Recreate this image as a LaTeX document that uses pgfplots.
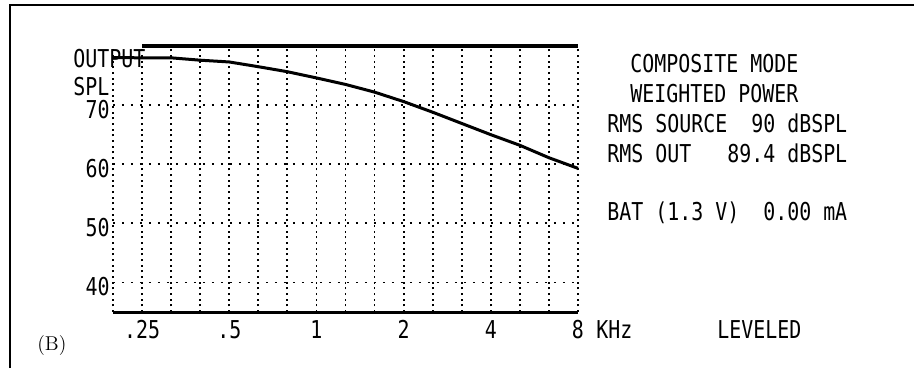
\documentclass[border=0pt]{standalone}
\usepackage{pgfplots}
\pgfplotsset{compat=1.18}
\usepackage{fontspec}
\newfontfamily\mono{DejaVu Sans Mono}[FakeStretch=0.81]
\newcommand\mf{\mono\fontsize{14.76pt}{18pt}\selectfont}

\begin{document}
\begin{tikzpicture}[x=0.6pt,y=0.6pt]
\path[use as bounding box] (0,0) rectangle (914,368);
\draw[line width=1.2pt] (10,0) -- (10,363) -- (914,363);
\begin{axis}[
  at={(67.8pt,33.6pt)}, anchor=south west,
  width=279pt, height=159.6pt, scale only axis,
  xmode=log, xmin=0.19843, xmax=8, ymin=35, ymax=80,
  clip=false,
  axis line style={draw=none},
  major tick length=0pt, minor tick length=0pt,
  xtick={0.25,0.5,1,2,4,8}, xticklabels={.25,.5,1,2,4,8},
  minor xtick={0.19843,0.315,0.397,0.63,0.794,1.26,1.587,2.52,3.175,5.04,6.35},
  ytick={40,50,60,70}, yticklabels={40,50,60,70},
  grid=both,
  grid style={line width=1.1pt, black, dash pattern=on 1.2pt off 2.2pt},
  major grid style={line width=1.1pt, black},
  minor grid style={line width=1.1pt, black},
  y grid style={dash pattern=on 1.5pt off 3.9pt},
  xticklabel style={font=\mf, inner sep=0pt, anchor=north, yshift=-4.8pt},
  yticklabel style={font=\mf, inner sep=0pt, anchor=east, xshift=-1.8pt, yshift=-2.4pt},
]
\addplot[black, line width=2.2pt] coordinates {(0.25,80) (8,80)};
\addplot[black, line width=1.8pt] coordinates {(0.19843,35) (8,35)};
\addplot[black, line width=1.8pt] coordinates {
(0.19843,78.05) (0.25,78.0) (0.315,78.0) (0.397,77.6) (0.5,77.3)
(0.63,76.5) (0.794,75.65) (1.0,74.6) (1.26,73.5) (1.587,72.2)
(2.0,70.6) (2.52,68.8) (3.175,66.9) (4.0,65.0) (5.04,63.2)
(6.35,61.1) (8.0,59.3)};
\end{axis}
\node[anchor=base west, inner sep=0pt, font=\mf] at (73,301) {OUTPUT};
\node[anchor=base west, inner sep=0pt, font=\mf] at (73,273) {SPL};
\node[anchor=base west, inner sep=0pt, font=\mf] at (630,295) {COMPOSITE MODE};
\node[anchor=base west, inner sep=0pt, font=\mf] at (630,266) {WEIGHTED POWER};
\node[anchor=base west, inner sep=0pt, font=\mf] at (607,236) {RMS SOURCE~ 90 dBSPL};
\node[anchor=base west, inner sep=0pt, font=\mf] at (607,206) {RMS OUT~~ 89.4 dBSPL};
\node[anchor=base west, inner sep=0pt, font=\mf] at (607,148) {BAT (1.3 V)~ 0.00 mA};
\node[anchor=base west, inner sep=0pt, font=\mf] at (596,30) {KHz};
\node[anchor=base west, inner sep=0pt, font=\mf] at (717,30) {LEVELED};
\node[anchor=base west, inner sep=0pt, font=\fontsize{12pt}{14pt}\selectfont] at (37,18) {(B)};
\end{tikzpicture}
\end{document}
